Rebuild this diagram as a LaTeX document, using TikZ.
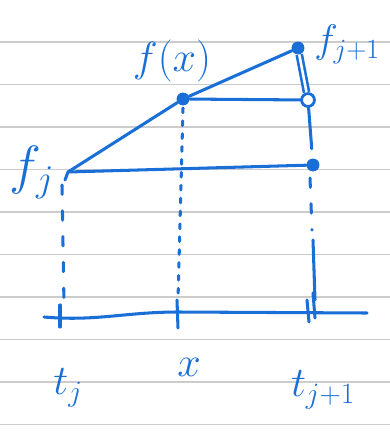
\documentclass[tikz,border=0pt]{standalone}
\usepackage{fix-cm}
\usetikzlibrary{positioning, calc}
\definecolor{ink}{HTML}{1A6FD6}
\definecolor{rule}{HTML}{CCCCCC}
\tikzset{
  pen/.style={draw=ink, line width=2.6pt, line cap=round, line join=round},
  dashpen/.style={pen, dash pattern=on 8pt off 14pt},
  dotpen/.style={pen, dash pattern=on 4pt off 7pt},
  dot/.style={circle, fill=ink, inner sep=0pt, minimum size=11pt},
  ring/.style={circle, draw=ink, line width=2.4pt, fill=white, inner sep=0pt, minimum size=11pt},
  lbl/.style={text=ink, font=\fontsize{#1}{#1}\selectfont, inner sep=0pt},
  lbl/.default=30,
}
\begin{document}
\begin{tikzpicture}[x=0.03cm, y=-0.03cm]
  \useasboundingbox (0,0) rectangle (390,439);
  % ruled paper
  \foreach \k in {0,...,9}
    \draw[rule, line width=1.6pt] (0,{42+42.5*\k}) -- (390,{42+42.5*\k});

  % points of the interpolation
  \coordinate (fj) at (68,172);
  \node[dot] (fx) at (183,99) {};
  \node[dot] (top) at (298,48) {};
  \node[ring] (mid) at (308,100) {};
  \node[dot] (low) at (313,165) {};

  \draw[pen] (fj) -- (fx) -- (top);
  \draw[pen] (fx) -- (mid);
  \draw[pen] (fj) -- (low);
  \draw[pen] (fj) -- ++(-3,8);
  \draw[draw=ink, line width=2.2pt, double=white, double distance=2.2pt] (top) -- (mid);
  \draw[pen] (mid) -- ($(mid)!0.75!(low)$);

  % axis and ticks
  \coordinate (axL) at (44,317);
  \coordinate (axR) at (367,313);
  \draw[pen] (axL) to[out=-5, in=180] (178,312) -- (axR);
  \draw[pen] (60,305) -- (60,327);
  \draw[pen] (177,300) -- (178,328);
  \draw[pen] (307,300) -- (309,322);
  \draw[pen] (313,293) -- (315,318);

  % guide lines down to the axis
  \draw[dashpen] (62,185) -- (64,305);
  \draw[dotpen] (183,108) -- (178,300);
  \draw[dashpen] (310,178) -- (312,230);
  \draw[pen] (313,240) -- (315,300);

  % labels
  \node[lbl=46] (lfj) at (32,172) {$f_{j}$};
  \node[lbl=36] (lfx) at (172,61) {$f(x)$};
  \node[lbl=34, right=8pt of top, yshift=3pt] (lfj1) {$f_{j+1}$};
  \node[lbl=36] (ltj) at (68,388) {$t_{j}$};
  \node[lbl=36] (lx) at (189,367) {$x$};
  \node[lbl=36] (ltj1) at (323,390) {$t_{j+1}$};
\end{tikzpicture}
\end{document}
